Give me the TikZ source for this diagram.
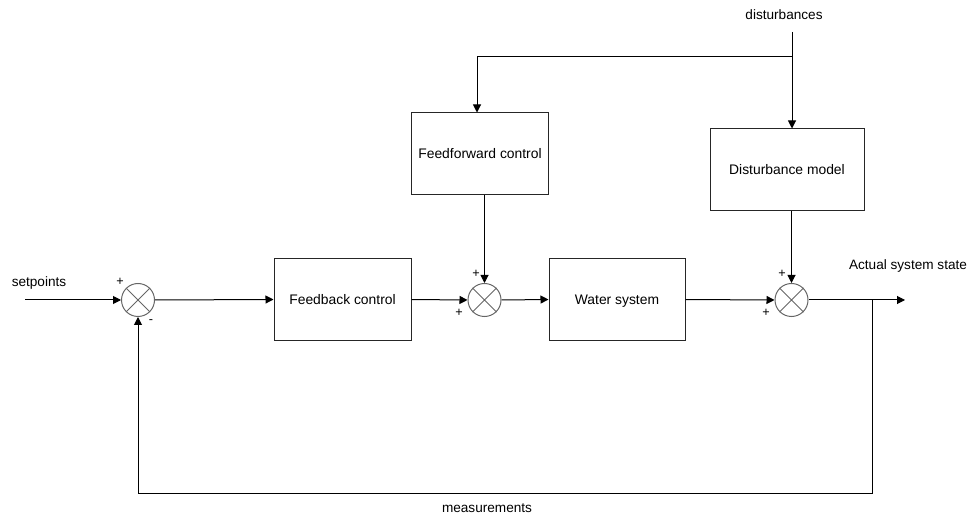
\documentclass[tikz,border=0pt]{standalone}
\usepackage{fontspec}
\setmainfont{Liberation Sans}
\usetikzlibrary{arrows.meta}
\begin{document}
\begin{tikzpicture}[x=0.75pt,y=-0.75pt,
  line width=0.75pt,
  >={Triangle[length=6pt,width=6pt]},
  block/.style={draw=black!85, fill=white, minimum width=#1, minimum height=61pt,
                inner sep=0pt, text height=1.6ex, text depth=0.3ex,
                font=\fontsize{10.4}{12}\selectfont},
  sum/.style={draw=black!60, circle, minimum size=24.75pt, inner sep=0pt},
  lbl/.style={font=\fontsize{10.2}{12}\selectfont, inner sep=0pt},
  sgn/.style={font=\fontsize{9.5}{10}\selectfont, inner sep=0pt}]
\useasboundingbox (0,0) rectangle (974,516);

% blocks
\node[block=102.75pt, minimum height=61.5pt] (ff) at (480,154) {Feedforward control};
\node[block=115.5pt, minimum height=61.5pt] (dm) at (787,170) {Disturbance model};
\node[block=102.75pt] (fb) at (342.5,299.5) {Feedback control};
\node[block=102pt] (ws) at (617,299.5) {Water system};

% summing junctions
\node[sum] (s1) at (138,300) {};
\node[sum] (s2) at (484.5,300) {};
\node[sum] (s3) at (791.5,300) {};
\foreach \s in {s1,s2,s3}
  \draw[black!60] (\s.north west) -- (\s.south east) (\s.north east) -- (\s.south west);

% free ends and corners
\coordinate (in) at (25,300);
\coordinate (out) at (905,300);
\coordinate (tap) at (872,300);
\coordinate (br) at (872,493);
\coordinate (bl) at (138,493);
\coordinate (dtop) at (792,32);
\coordinate (split) at (792,57);
\coordinate (ffin) at (477,57);

% main loop
\draw[->] (in) -- (s1.west);
\draw[->] (s1.east) -- (fb.west);
\draw[->] (fb.east) -- (s2.west);
\draw[->] (s2.east) -- (ws.west);
\draw[->] (ws.east) -- (s3.west);
\draw[->] (s3.east) -- (out);
\draw[->] (tap) -- (br) -- (bl) -- (s1.south);

% disturbance paths
\draw[->] (dtop) -- (dtop |- dm.north);
\draw[->] (split) -- (ffin) -- (ffin |- ff.north);
\draw[->] (s2 |- ff.south) -- (s2.north);
\draw[->] (s3 |- dm.south) -- (s3.north);

% labels
\node[lbl] (sp) at (39,283) {setpoints};
\node[lbl] (dist) at (784,15) {disturbances};
\node[lbl] (act) at (908,266) {Actual system state};
\node[lbl] (meas) at (487,508) {measurements};

% signs
\node[sgn] at (120,282) {+};
\node[sgn] at (151,322) {-};
\node[sgn] at (476,274) {+};
\node[sgn] at (459,313) {+};
\node[sgn] at (782,274) {+};
\node[sgn] at (766,313) {+};
\end{tikzpicture}
\end{document}
